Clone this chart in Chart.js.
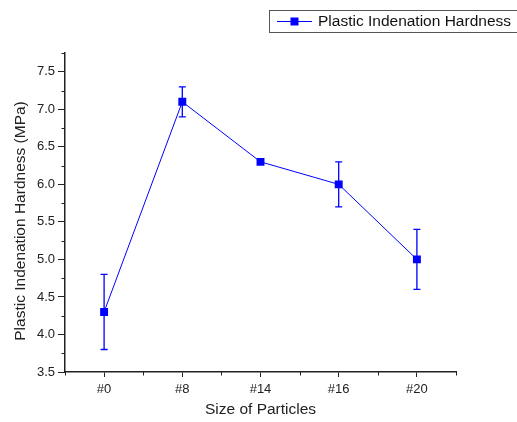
<!DOCTYPE html>
<html>
<head>
<meta charset="utf-8">
<script src="https://cdn.jsdelivr.net/npm/chart.js@4/dist/chart.umd.min.js"></script>
<style>
  html, body { margin: 0; padding: 0; background: #fff; }
  #wrap { width: 517px; height: 422px; }
</style>
</head>
<body>
<div id="wrap"><canvas id="hardnessChart"></canvas></div>
<script>
// data
const particleSizes = ['#0', '#8', '#14', '#16', '#20'];
const hardness = [4.3, 7.1, 6.3, 6.0, 5.0];
const hardnessErr = [0.5, 0.2, 0, 0.3, 0.4];
const seriesLabel = 'Plastic Indenation Hardness';
const yTitle = 'Plastic Indenation Hardness (MPa)';

const FONT = 'Liberation Sans, Arial, sans-serif';
const BLUE = '#0000ff';
const AXIS = '#222';

// error bars, drawn under the markers
const errorBars = {
    id: 'errorBars',
    beforeDatasetsDraw(chart) {
        const ctx = chart.ctx;
        const x = chart.scales.x, y = chart.scales.y;
        ctx.save();
        ctx.strokeStyle = BLUE;
        ctx.lineWidth = 1.3;
        hardness.forEach((v, i) => {
            const e = hardnessErr[i];
            if (!e) return;
            const px = x.getPixelForValue(i);
            const top = y.getPixelForValue(v + e);
            const bot = y.getPixelForValue(v - e);
            ctx.beginPath();
            ctx.moveTo(px, top); ctx.lineTo(px, bot);
            ctx.moveTo(px - 3.5, top); ctx.lineTo(px + 3.5, top);
            ctx.moveTo(px - 3.5, bot); ctx.lineTo(px + 3.5, bot);
            ctx.stroke();
        });
        ctx.restore();
    }
};

// minor ticks, y title and the boxed legend
const extras = {
    id: 'extras',
    afterDraw(chart) {
        const ctx = chart.ctx;
        const x = chart.scales.x, y = chart.scales.y;
        const area = chart.chartArea;
        ctx.save();
        ctx.strokeStyle = AXIS;
        ctx.lineWidth = 1;
        ctx.beginPath();
        for (let v = 3.75; v < 7.8; v += 0.5) {
            const py = Math.round(y.getPixelForValue(v)) + 0.5;
            ctx.moveTo(area.left - 3.5, py); ctx.lineTo(area.left, py);
        }
        for (let i = -1; i < particleSizes.length; i++) {
            const px = Math.round((x.getPixelForValue(i) + x.getPixelForValue(i + 1)) / 2) + 0.5;
            ctx.moveTo(px, area.bottom); ctx.lineTo(px, area.bottom + 3.5);
        }
        ctx.stroke();

        // y axis title
        ctx.save();
        ctx.translate(21, 221);
        ctx.rotate(-Math.PI / 2);
        ctx.fillStyle = '#222';
        ctx.font = '15.5px ' + FONT;
        ctx.textAlign = 'center';
        ctx.textBaseline = 'middle';
        ctx.fillText(yTitle, 0, 0);
        ctx.restore();

        // legend
        ctx.strokeStyle = '#555';
        ctx.lineWidth = 1;
        ctx.strokeRect(269.5, 10.5, 260, 22);
        ctx.strokeStyle = BLUE;
        ctx.beginPath();
        ctx.moveTo(277, 21.5); ctx.lineTo(312, 21.5);
        ctx.stroke();
        ctx.fillStyle = BLUE;
        ctx.fillRect(290.5, 17.5, 8, 8);
        ctx.fillStyle = '#111';
        ctx.font = '15.5px ' + FONT;
        ctx.textBaseline = 'middle';
        ctx.fillText(seriesLabel, 318, 22);
        ctx.restore();
    }
};

const ctx = document.getElementById('hardnessChart');
new Chart(ctx, {
    type: 'line',
    data: {
        labels: particleSizes,
        datasets: [{
            label: seriesLabel,
            data: hardness,
            borderColor: BLUE,
            backgroundColor: BLUE,
            borderWidth: 1,
            pointStyle: 'rect',
            pointRadius: 5.6,
            pointHoverRadius: 5.6,
            pointBorderWidth: 0,
            tension: 0
        }]
    },
    options: {
        responsive: true,
        maintainAspectRatio: false,
        animation: false,
        events: [],
        layout: {
            padding: { left: 0, top: 53, right: 61, bottom: 0 }
        },
        plugins: {
            legend: { display: false },
            tooltip: { enabled: false }
        },
        scales: {
            x: {
                type: 'category',
                offset: true,
                afterFit: s => { s.height = 50; },
                grid: {
                    drawOnChartArea: false,
                    drawTicks: true,
                    tickLength: 5,
                    tickColor: AXIS,
                    offset: false
                },
                border: { display: true, color: AXIS, width: 1.5 },
                ticks: {
                    color: '#222',
                    padding: 5,
                    font: { family: FONT, size: 13 },
                    maxRotation: 0
                },
                title: {
                    display: true,
                    text: 'Size of Particles',
                    color: '#222',
                    font: { family: FONT, size: 15.5 },
                    padding: { top: 0, bottom: 3 }
                }
            },
            y: {
                min: 3.5,
                max: 7.75,
                afterFit: s => { s.width = 65; },
                grid: {
                    drawOnChartArea: false,
                    drawTicks: true,
                    tickLength: 7,
                    tickColor: AXIS
                },
                border: { display: true, color: AXIS, width: 1.5 },
                ticks: {
                    stepSize: 0.5,
                    includeBounds: false,
                    color: '#222',
                    padding: 3,
                    font: { family: FONT, size: 13 },
                    callback: v => Number(v).toFixed(1)
                }
            }
        }
    },
    plugins: [errorBars, extras]
});
</script>
</body>
</html>
